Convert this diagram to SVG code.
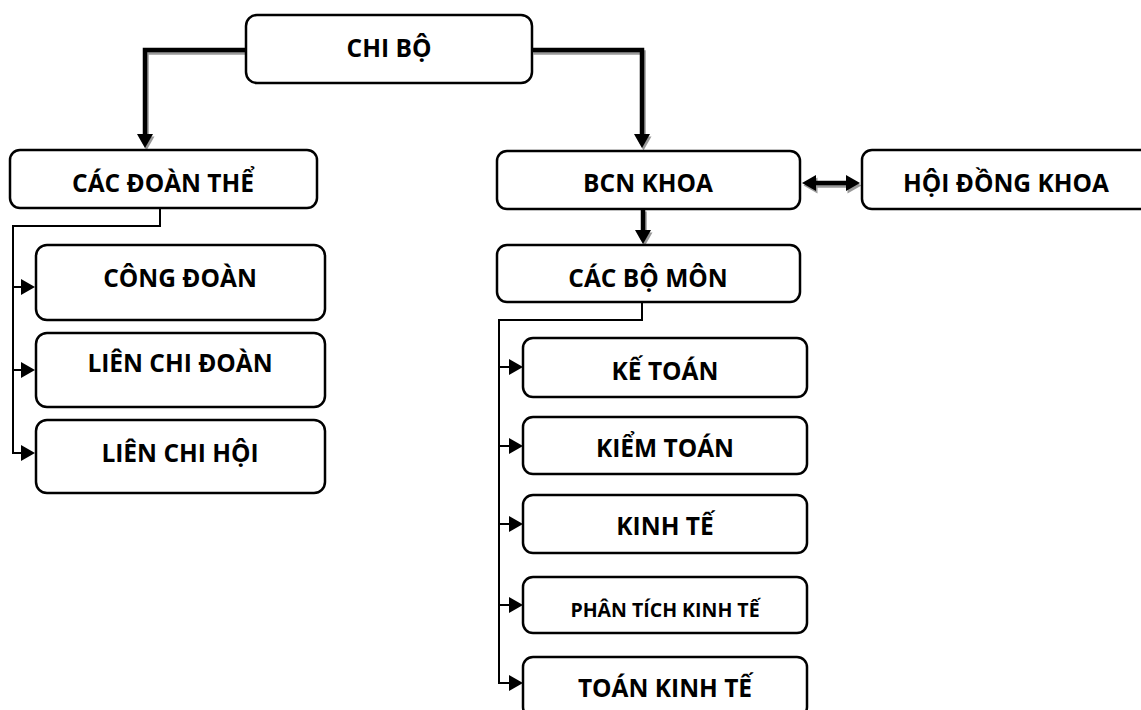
<svg xmlns="http://www.w3.org/2000/svg" width="1141" height="710" viewBox="0 0 1141 710">
<defs>
<style>
.box{fill:#fff;stroke:#000;stroke-width:2.5}
.t{font-family:"Open Sans","Liberation Sans",sans-serif;font-weight:bold;font-size:24.5px;fill:#000;text-anchor:middle}
.thick{fill:none;stroke:#000;stroke-width:4.5}
.shadow{fill:none;stroke:#999;stroke-width:4.5}
.sh{fill:#999}
.hd{fill:#000}
.thin{fill:none;stroke:#000;stroke-width:2}
</style>
</defs>
<rect width="1141" height="710" fill="#fff"/>
<g id="connectors">
<g transform="translate(1.5,2.5)">
<path class="shadow" d="M246,50H145V136"/>
<polygon class="sh" points="137,134 153,134 145,148"/>
<path class="shadow" d="M532,50H642V136"/>
<polygon class="sh" points="634,134 650,134 642,148"/>
<path class="shadow" d="M643,209V232"/>
<polygon class="sh" points="635,230 651,230 643,244"/>
<path class="shadow" d="M812,183H850"/>
<polygon class="sh" points="802,183 816,175 816,191"/>
<polygon class="sh" points="860,183 846,175 846,191"/>
</g>
<path class="thick" d="M246,50H145V136"/>
<polygon class="hd" points="137,134 153,134 145,148"/>
<path class="thick" d="M532,50H642V136"/>
<polygon class="hd" points="634,134 650,134 642,148"/>
<path class="thick" d="M643,209V232"/>
<polygon class="hd" points="635,230 651,230 643,244"/>
<path class="thick" d="M812,183H850"/>
<polygon class="hd" points="802,183 816,175 816,191"/>
<polygon class="hd" points="860,183 846,175 846,191"/>
<path class="thin" d="M160,208V226H13V453H24"/>
<path class="thin" d="M13,287H24M13,370H24"/>
<polygon class="hd" points="21,279 35,287 21,295"/>
<polygon class="hd" points="21,362 35,370 21,378"/>
<polygon class="hd" points="21,445 35,453 21,461"/>
<path class="thin" d="M642,302V320H499V683H512"/>
<path class="thin" d="M499,367H512M499,446H512M499,524H512M499,605H512"/>
<polygon class="hd" points="509,359 523,367 509,375"/>
<polygon class="hd" points="509,438 523,446 509,454"/>
<polygon class="hd" points="509,516 523,524 509,532"/>
<polygon class="hd" points="509,597 523,605 509,613"/>
<polygon class="hd" points="509,675 523,683 509,691"/>
</g>
<g id="chibo"><rect class="box" x="246" y="15" width="286" height="68" rx="11"/><text class="t" x="389" y="57">CHI BỘ</text></g>
<g id="cacdoanthe"><rect class="box" x="10" y="150" width="307" height="58" rx="10"/><text class="t" x="163" y="192">CÁC ĐOÀN THỂ</text></g>
<g id="congdoan"><rect class="box" x="36" y="245" width="289" height="75" rx="11"/><text class="t" x="180" y="287">CÔNG ĐOÀN</text></g>
<g id="lienchidoan"><rect class="box" x="36" y="333" width="289" height="74" rx="11"/><text class="t" x="180" y="372">LIÊN CHI ĐOÀN</text></g>
<g id="lienchihoi"><rect class="box" x="36" y="420" width="289" height="73" rx="11"/><text class="t" x="180" y="462">LIÊN CHI HỘI</text></g>
<g id="bcnkhoa"><rect class="box" x="497" y="151" width="303" height="58" rx="10"/><text class="t" x="648" y="192">BCN KHOA</text></g>
<g id="hoidongkhoa"><rect class="box" x="862" y="150" width="290" height="59" rx="10"/><text class="t" x="1006" y="192">HỘI ĐỒNG KHOA</text></g>
<g id="cacbomon"><rect class="box" x="497" y="245" width="303" height="57" rx="10"/><text class="t" x="648" y="287">CÁC BỘ MÔN</text></g>
<g id="ketoan"><rect class="box" x="523" y="338" width="284" height="59" rx="10"/><text class="t" x="665" y="380">KẾ TOÁN</text></g>
<g id="kiemtoan"><rect class="box" x="523" y="417" width="284" height="57" rx="10"/><text class="t" x="665" y="457">KIỂM TOÁN</text></g>
<g id="kinhte"><rect class="box" x="523" y="495" width="284" height="58" rx="10"/><text class="t" x="665" y="535">KINH TẾ</text></g>
<g id="phantich"><rect class="box" x="523" y="577" width="284" height="56" rx="10"/><text class="t" x="665" y="617" style="font-size:19.5px">PHÂN TÍCH KINH TẾ</text></g>
<g id="toankinhte"><rect class="box" x="523" y="657" width="284" height="60" rx="10"/><text class="t" x="665" y="697">TOÁN KINH TẾ</text></g>
</svg>
